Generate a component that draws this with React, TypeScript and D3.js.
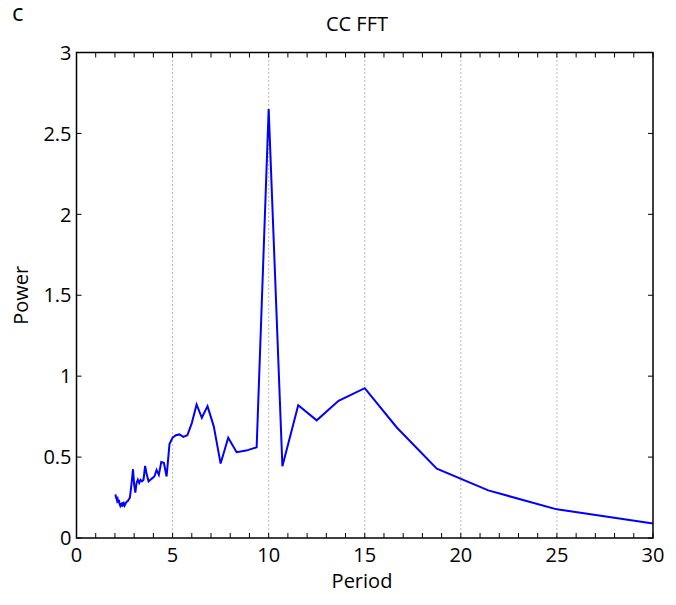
import React from "react";
import * as d3 from "d3";

const periods: number[] = [
  2.027, 2.055, 2.083, 2.113, 2.143, 2.174, 2.206, 2.239, 2.273, 2.308,
  2.344, 2.381, 2.419, 2.459, 2.5, 2.542, 2.586, 2.632, 2.679, 2.727,
  2.778, 2.83, 2.885, 2.941, 3.0, 3.061, 3.125, 3.191, 3.261, 3.333,
  3.409, 3.488, 3.571, 3.659, 3.75, 3.846, 3.947, 4.054, 4.167, 4.286,
  4.412, 4.545, 4.688, 4.839, 5.0, 5.172, 5.357, 5.556, 5.769, 6.0,
  6.25, 6.522, 6.818, 7.143, 7.5, 7.895, 8.333, 8.824, 9.375, 10.0,
  10.714, 11.538, 12.5, 13.636, 15.0, 16.667, 18.75, 21.429, 25.0, 30.0,
];

const power: number[] = [
  0.27, 0.25, 0.245, 0.23, 0.24, 0.22, 0.235, 0.21, 0.2, 0.215,
  0.195, 0.22, 0.205, 0.215, 0.2, 0.21, 0.22, 0.225, 0.23, 0.24,
  0.25, 0.3, 0.36, 0.425, 0.33, 0.28, 0.34, 0.36, 0.34, 0.36,
  0.35, 0.36, 0.445, 0.39, 0.35, 0.36, 0.37, 0.38, 0.42, 0.39,
  0.47, 0.465, 0.38, 0.58, 0.62, 0.635, 0.64, 0.625, 0.635, 0.71,
  0.825, 0.743, 0.815, 0.69, 0.46, 0.62, 0.53, 0.54, 0.56, 2.65,
  0.444, 0.82, 0.727, 0.848, 0.926, 0.683, 0.428, 0.294, 0.177, 0.09,
];

const xTicks: number[] = [0, 5, 10, 15, 20, 25, 30];
const xMinorTicks: number[] = d3.range(0, 31, 1);
const yTicks: number[] = [0, 0.5, 1, 1.5, 2, 2.5, 3];
const gridX: number[] = [5, 10, 15, 20, 25];

const title = "CC FFT";
const xLabel = "Period";
const yLabel = "Power";
const panelLabel = "c";

export default function App() {
  const W = 676;
  const H = 605;
  const left = 76.5;
  const right = 653;
  const top = 52.5;
  const bottom = 538;
  const x = d3.scaleLinear().domain([0, 30]).range([left, right]);
  const y = d3.scaleLinear().domain([0, 3]).range([bottom, top]);
  const line = d3
    .line<number>()
    .x((_, i) => x(periods[i]))
    .y((d) => y(d));
  const font = "'Open Sans', 'DejaVu Sans', sans-serif";
  const tickLen = 5;

  return (
    <svg
      width={W}
      height={H}
      style={{ position: "absolute", left: 0, top: 0, background: "#fff" }}
      fontFamily={font}
    >
      <rect x={0} y={0} width={W} height={H} fill="#fff" />
      {gridX.map((g) => (
        <line
          key={"g" + g}
          x1={x(g)}
          x2={x(g)}
          y1={top}
          y2={bottom}
          stroke="#777"
          strokeWidth={1}
          strokeDasharray="1,3"
        />
      ))}
      {xMinorTicks.map((t) => (
        <g key={"xt" + t}>
          <line x1={x(t)} x2={x(t)} y1={bottom} y2={bottom - tickLen} stroke="#000" strokeWidth={1} />
          <line x1={x(t)} x2={x(t)} y1={top} y2={top + tickLen} stroke="#000" strokeWidth={1} />
        </g>
      ))}
      {yTicks.map((t) => (
        <g key={"yt" + t}>
          <line x1={left} x2={left + tickLen} y1={y(t)} y2={y(t)} stroke="#000" strokeWidth={1} />
          <line x1={right} x2={right - tickLen} y1={y(t)} y2={y(t)} stroke="#000" strokeWidth={1} />
          <text x={left - 5} y={y(t)} dy="0.36em" textAnchor="end" fontSize={20} fill="#000">
            {t}
          </text>
        </g>
      ))}
      {xTicks.map((t) => (
        <text key={"xl" + t} x={x(t)} y={bottom + 24} textAnchor="middle" fontSize={20} fill="#000">
          {t}
        </text>
      ))}
      <path d={line(power) || ""} fill="none" stroke="#0000ff" strokeWidth={2} strokeLinejoin="miter" />
      <rect
        x={left}
        y={top}
        width={right - left}
        height={bottom - top}
        fill="none"
        stroke="#000"
        strokeWidth={1.5}
      />
      <text x={357} y={30.5} textAnchor="middle" fontSize={20} fill="#000">
        {title}
      </text>
      <text x={362} y={588} textAnchor="middle" fontSize={20} fill="#000">
        {xLabel}
      </text>
      <text
        transform={`translate(28,${(top + bottom) / 2}) rotate(-90)`}
        textAnchor="middle"
        fontSize={20}
        fill="#000"
      >
        {yLabel}
      </text>
      <text x={12} y={21} fontSize={24} fill="#000">
        {panelLabel}
      </text>
    </svg>
  );
}
